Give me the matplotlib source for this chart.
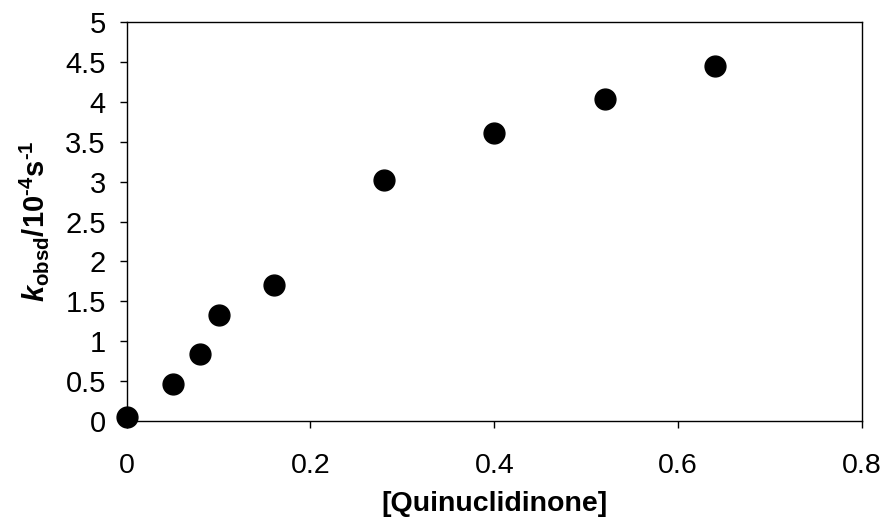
import matplotlib
matplotlib.use('Agg')
import matplotlib.pyplot as plt

# data
quinuclidinone = [0.0, 0.05, 0.08, 0.10, 0.16, 0.28, 0.40, 0.52, 0.64]
k_obsd = [0.05, 0.46, 0.84, 1.33, 1.71, 3.02, 3.61, 4.04, 4.45]

x_ticks = [0, 0.2, 0.4, 0.6, 0.8]
x_labels = ['0', '0.2', '0.4', '0.6', '0.8']
y_ticks = [0, 0.5, 1, 1.5, 2, 2.5, 3, 3.5, 4, 4.5, 5]
y_labels = ['0', '0.5', '1', '1.5', '2', '2.5', '3', '3.5', '4', '4.5', '5']

plt.rcParams['font.family'] = ['Liberation Sans', 'DejaVu Sans']
plt.rcParams['mathtext.fontset'] = 'custom'
plt.rcParams['mathtext.rm'] = 'Liberation Sans'
plt.rcParams['mathtext.bf'] = 'Liberation Sans:bold'
plt.rcParams['mathtext.it'] = 'Liberation Sans:italic'
plt.rcParams['mathtext.bfit'] = 'Liberation Sans:bold:italic'

fig = plt.figure(figsize=(8.84, 5.30), dpi=100)
ax = fig.add_axes([0.1433, 0.206, 0.8317, 0.752])

ax.plot(quinuclidinone, k_obsd, 'o', color='black', markersize=15, clip_on=False)

ax.set_xlim(0, 0.8)
ax.set_ylim(0, 5)
ax.set_xticks(x_ticks)
ax.set_xticklabels(x_labels)
ax.set_yticks(y_ticks)
ax.set_yticklabels(y_labels)

ax.tick_params(axis='x', direction='out', length=5, width=1, pad=18, labelsize=20.5)
ax.tick_params(axis='y', direction='out', length=5, width=1, pad=10, labelsize=21)
for s in ax.spines.values():
    s.set_linewidth(1)
    s.set_color('black')

ax.set_xlabel('[Quinuclidinone]', fontsize=20.5, fontweight='bold', labelpad=9)
ylab = '$\\mathbfit{k}_{\\mathbf{obsd}}\\mathbf{/10^{\u2010 4}s^{\u2010 1}}$'
ax.set_ylabel(ylab, fontsize=21, labelpad=10)

plt.savefig('out.png', dpi=100)
